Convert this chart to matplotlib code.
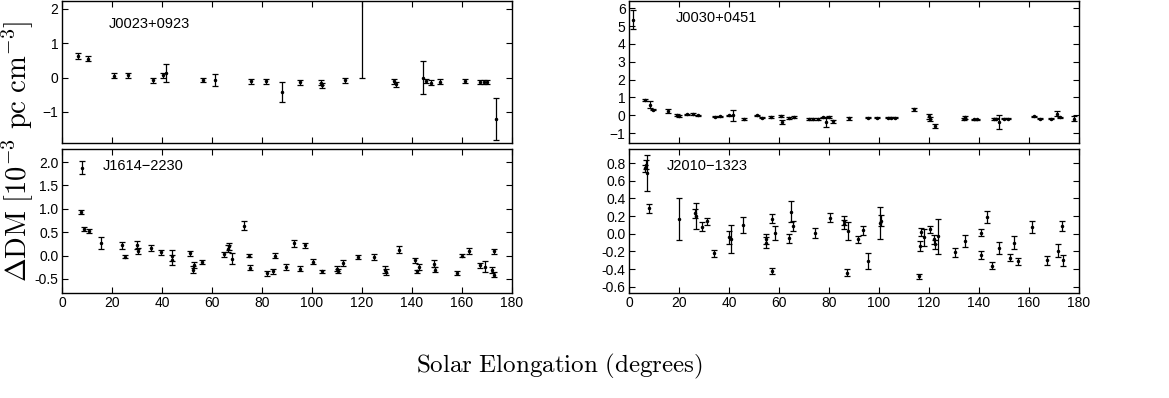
import matplotlib
matplotlib.use("Agg")
import matplotlib.pyplot as plt
from matplotlib.ticker import FormatStrFormatter

plt.rcParams['font.family'] = ['Liberation Sans', 'DejaVu Sans']
plt.rcParams['mathtext.fontset'] = 'cm'

# J0023+0923
elong_j0023 = [6.4, 10.4, 20.8, 26.3, 36.4, 40.2, 41.5, 56.3, 61.3, 75.5, 81.4, 88.0,
               95.3, 103.6, 104.1, 113.1, 120.0, 132.9, 133.4, 144.5, 145.5, 147.7,
               151.0, 161.0, 167.3, 168.9, 170.0, 173.5]
ddm_j0023 = [0.62, 0.55, 0.05, 0.06, -0.08, 0.06, 0.12, -0.08, -0.08, -0.11, -0.11, -0.42,
             -0.14, -0.15, -0.22, -0.08, 2.5, -0.11, -0.2, 0.0, -0.1, -0.15,
             -0.12, -0.1, -0.13, -0.13, -0.13, -1.2]
err_j0023 = [0.08, 0.07, 0.07, 0.07, 0.07, 0.07, 0.26, 0.06, 0.17, 0.07, 0.07, 0.28,
             0.07, 0.07, 0.07, 0.07, 2.5, 0.07, 0.07, 0.47, 0.07, 0.07,
             0.07, 0.07, 0.07, 0.07, 0.07, 0.6]

# J0030+0451
elong_j0030 = [1.6, 6.5, 8.4, 9.5, 15.4, 19.1, 20.0, 23.3, 25.5, 27.6, 34.2, 36.5, 40.0,
               41.5, 46.1, 51.3, 53.3, 56.6, 60.6, 61.1, 63.9, 66.1, 72.0, 73.6, 75.7,
               77.7, 78.9, 79.9, 81.5, 88.1, 95.7, 99.3, 103.4, 104.7, 106.3, 113.8,
               119.8, 120.5, 122.3, 133.9, 134.3, 137.9, 139.2, 145.8, 146.7, 148.1,
               150.1, 151.7, 162.0, 164.2, 168.8, 171.0, 172.4, 178.0]
ddm_j0030 = [5.35, 0.87, 0.6, 0.32, 0.24, 0.0, -0.05, 0.06, 0.07, 0.0, -0.07, -0.06, 0.0,
             0.0, -0.22, 0.0, -0.13, -0.1, -0.05, -0.37, -0.15, -0.1, -0.2, -0.2, -0.2,
             -0.12, -0.37, -0.1, -0.33, -0.17, -0.13, -0.13, -0.13, -0.13, -0.13, 0.33,
             -0.05, -0.2, -0.6, -0.19, -0.12, -0.22, -0.22, -0.19, -0.19, -0.37,
             -0.19, -0.19, -0.06, -0.19, -0.19, 0.1, -0.12, -0.19]
err_j0030 = [0.54, 0.05, 0.18, 0.05, 0.1, 0.05, 0.05, 0.04, 0.04, 0.04, 0.04, 0.04, 0.04,
             0.3, 0.05, 0.04, 0.04, 0.06, 0.05, 0.12, 0.04, 0.04, 0.04, 0.04, 0.04,
             0.04, 0.28, 0.04, 0.08, 0.08, 0.04, 0.04, 0.04, 0.04, 0.04, 0.07,
             0.15, 0.1, 0.12, 0.06, 0.06, 0.04, 0.04, 0.06, 0.04, 0.37,
             0.04, 0.04, 0.04, 0.04, 0.04, 0.12, 0.05, 0.15]

# J1614-2230
elong_j1614 = [7.5, 8.0, 8.8, 10.9, 15.5, 23.8, 25.3, 29.9, 30.3, 35.6, 39.4, 43.8, 44.1,
               51.0, 52.5, 52.8, 56.1, 64.6, 66.3, 66.6, 67.9, 72.7, 74.9, 75.3, 81.9,
               84.4, 85.0, 89.4, 92.6, 95.0, 97.0, 100.5, 103.8, 109.9, 110.2, 112.4,
               118.3, 124.8, 129.0, 129.7, 134.8, 141.3, 141.9, 142.7, 148.9, 149.0,
               158.0, 160.0, 162.6, 167.3, 169.2, 171.9, 172.6, 172.6]
ddm_j1614 = [0.93, 1.88, 0.57, 0.52, 0.27, 0.22, -0.02, 0.23, 0.1, 0.16, 0.07, -0.1, 0.0,
             0.05, -0.3, -0.2, -0.14, 0.03, 0.15, 0.2, -0.07, 0.64, 0.0, -0.26, -0.38,
             -0.34, 0.0, -0.24, 0.26, -0.28, 0.22, -0.13, -0.34, -0.28, -0.33, -0.16,
             -0.03, -0.03, -0.3, -0.35, 0.13, -0.1, -0.34, -0.25, -0.17, -0.3,
             -0.37, 0.0, 0.1, -0.21, -0.24, -0.31, -0.41, 0.09]
err_j1614 = [0.05, 0.14, 0.05, 0.04, 0.12, 0.07, 0.03, 0.08, 0.07, 0.06, 0.05, 0.11, 0.12,
             0.05, 0.07, 0.07, 0.05, 0.05, 0.07, 0.07, 0.12, 0.1, 0.04, 0.05, 0.06,
             0.06, 0.06, 0.06, 0.07, 0.05, 0.06, 0.05, 0.04, 0.05, 0.05, 0.06,
             0.05, 0.06, 0.07, 0.06, 0.08, 0.05, 0.04, 0.06, 0.08, 0.06,
             0.05, 0.04, 0.06, 0.05, 0.12, 0.06, 0.05, 0.06]

# J2010-1323
elong_j2010 = [6.3, 6.9, 7.2, 7.9, 20.1, 26.4, 26.6, 29.1, 31.1, 34.1, 39.9, 40.6, 45.4,
               54.6, 54.9, 57.0, 57.2, 58.3, 64.0, 64.9, 65.6, 74.3, 80.2, 86.0, 86.1,
               87.3, 87.5, 91.7, 93.4, 95.4, 100.3, 100.9, 115.9, 116.4, 116.8, 118.1,
               120.5, 121.8, 122.3, 123.6, 130.3, 134.3, 140.6, 140.8, 143.2, 145.2,
               148.1, 152.4, 154.0, 155.7, 161.0, 167.0, 171.6, 173.2, 173.6]
ddm_j2010 = [0.74, 0.78, 0.69, 0.29, 0.17, 0.23, 0.2, 0.08, 0.14, -0.22, -0.04, -0.06, 0.1,
             -0.06, -0.1, -0.42, 0.17, 0.01, -0.05, 0.25, 0.09, 0.01, 0.18, 0.15, 0.11,
             -0.44, 0.03, -0.06, 0.04, -0.31, 0.12, 0.15, -0.48, -0.14, 0.02, -0.04,
             0.05, -0.06, -0.12, -0.03, -0.21, -0.08, 0.01, -0.24, 0.19, -0.36,
             -0.16, -0.27, -0.1, -0.31, 0.08, -0.3, -0.19, 0.09, -0.3]
err_j2010 = [0.04, 0.05, 0.2, 0.05, 0.24, 0.05, 0.15, 0.05, 0.04, 0.04, 0.07, 0.16, 0.09,
             0.06, 0.06, 0.03, 0.05, 0.08, 0.05, 0.12, 0.06, 0.06, 0.05, 0.05, 0.05,
             0.04, 0.1, 0.04, 0.05, 0.09, 0.18, 0.06, 0.03, 0.06, 0.05, 0.1,
             0.04, 0.05, 0.05, 0.2, 0.05, 0.07, 0.04, 0.05, 0.07, 0.04,
             0.07, 0.04, 0.07, 0.04, 0.07, 0.05, 0.07, 0.06, 0.06]

names = ['J0023+0923', 'J0030+0451', 'J1614\u22122230', 'J2010\u22121323']

fig = plt.figure(figsize=(11.69, 3.98), dpi=100)

W, H = 1169.0, 398.0
lefts = [62, 629]
tops = [(1, 143), (149, 293)]
axw = 450

panels = [
    (0, 0, elong_j0023, ddm_j0023, err_j0023, names[0], (-1.9, 2.22), [-1, 0, 1, 2], None, (0.105, 0.84)),
    (0, 1, elong_j0030, ddm_j0030, err_j0030, names[1], (-1.55, 6.4), [-1, 0, 1, 2, 3, 4, 5, 6], None, (0.105, 0.88)),
    (1, 0, elong_j1614, ddm_j1614, err_j1614, names[2], (-0.8, 2.28), [-0.5, 0.0, 0.5, 1.0, 1.5, 2.0], '%.1f', (0.09, 0.88)),
    (1, 1, elong_j2010, ddm_j2010, err_j2010, names[3], (-0.67, 0.96), [-0.6, -0.4, -0.2, 0.0, 0.2, 0.4, 0.6, 0.8], '%.1f', (0.085, 0.88)),
]

for row, col, x, y, e, name, ylim, yt, fmt, tpos in panels:
    t, b = tops[row]
    l = lefts[col]
    ax = fig.add_axes([l / W, 1 - b / H, axw / W, (b - t) / H])
    ax.errorbar(x, y, yerr=e, fmt='k.', markersize=3, elinewidth=0.9,
                capsize=2.2, capthick=0.9, ecolor='k')
    ax.set_xlim(0, 180)
    ax.set_ylim(*ylim)
    ax.set_xticks(range(0, 181, 20))
    ax.set_yticks(yt)
    if fmt:
        ax.yaxis.set_major_formatter(FormatStrFormatter(fmt))
    ax.tick_params(direction='in', top=True, right=True, length=4, width=0.8,
                   labelsize=10, pad=2.5)
    if row == 0:
        ax.tick_params(labelbottom=False)
    for s in ax.spines.values():
        s.set_linewidth(1.0)
    ax.text(tpos[0], tpos[1], name, transform=ax.transAxes, fontsize=10.5,
            va='center', ha='left')

fig.text(17 / W, 1 - 151 / H, r'$\Delta\mathrm{DM}\ [10^{-3}\ \mathrm{pc\ cm^{-3}}]$',
         rotation=90, ha='center', va='center', fontsize=20.5)
fig.text(559 / W, 1 - 366 / H, r'$\mathrm{Solar\ Elongation\ (degrees)}$',
         ha='center', va='center', fontsize=18)

fig.savefig('out.png', dpi=100)
